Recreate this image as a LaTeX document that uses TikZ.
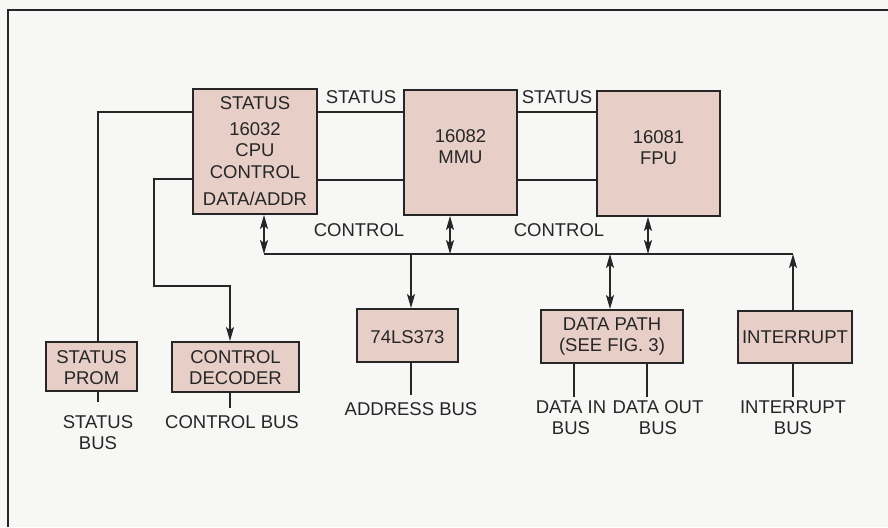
\documentclass[tikz,border=0pt]{standalone}
\usepackage{fontspec}
\setmainfont{Liberation Sans}
\usetikzlibrary{arrows.meta}
\definecolor{boxfill}{RGB}{231,207,199}
\definecolor{ink}{RGB}{38,38,38}
\definecolor{paper}{RGB}{247,247,246}
\tikzset{
  blk/.style={draw=ink, line width=1.9pt, fill=boxfill, inner sep=0pt},
  txt/.style={text=ink, font=\fontsize{18.5}{21}\selectfont, align=center, inner sep=0pt},
  wire/.style={draw=ink, line width=1.5pt},
  arr/.style={wire, -{Stealth[length=14pt,width=8pt,inset=3pt]}},
  barr/.style={wire, {Stealth[length=14pt,width=8pt,inset=3pt]}-{Stealth[length=14pt,width=8pt,inset=3pt]}},
}
\begin{document}
\begin{tikzpicture}[x=1pt,y=-1pt]
\fill[paper] (0,0) rectangle (888,527);
\useasboundingbox (0,0) rectangle (888,527);
% frame (top and left visible)
\coordinate (ftl) at (8,10);
\coordinate (ftr) at (888,10);
\coordinate (fbl) at (8,527);
\draw[draw=ink, line width=1.8pt] (fbl) -- (ftl) -- (ftr);

% main boxes
\node[blk, minimum width=124pt, minimum height=125pt] (cpu) at (255,151.5) {};
\node[blk, minimum width=113pt, minimum height=125pt] (mmu) at (460.5,152.5) {};
\node[blk, minimum width=123pt, minimum height=125pt] (fpu) at (658.5,153.5) {};

\node[txt] (cpu1) at (255,103) {STATUS};
\node[txt] (cpu2) at (255,129) {16032};
\node[txt] (cpu3) at (255,150) {CPU};
\node[txt] (cpu4) at (255,172) {CONTROL};
\node[txt] (cpu5) at (255,199) {DATA/ADDR};
\node[txt] (mmut) at (460.5,147) {16082\\MMU};
\node[txt] (fput) at (658.5,148) {16081\\FPU};

% lower boxes
\node[blk, minimum width=91pt, minimum height=49pt] (prom) at (91.5,366.5) {};
\node[txt] (promt) at (91.5,367.5) {STATUS\\PROM};
\node[blk, minimum width=127pt, minimum height=50pt] (dec) at (235.5,367) {};
\node[txt] (dect) at (235.5,367.5) {CONTROL\\DECODER};
\node[blk, minimum width=101pt, minimum height=53pt] (ls) at (407.5,335.5) {};
\node[txt] (lst) at (407.5,337) {74LS373};
\node[blk, minimum width=142pt, minimum height=53pt] (dp) at (612,336.5) {};
\node[txt] (dpt) at (612,336.5) {DATA PATH\\(SEE FIG. 3)};
\node[blk, minimum width=114pt, minimum height=52pt] (int) at (795,337) {};
\node[txt] (intt) at (795,337) {INTERRUPT};

% status / control links between CPU, MMU, FPU
\coordinate (sy) at (0,112);
\coordinate (cy) at (0,180);
\draw[wire] (cpu.east |- sy) -- (mmu.west |- sy);
\draw[wire] (mmu.east |- sy) -- (fpu.west |- sy);
\draw[wire] (cpu.east |- cy) -- (mmu.west |- cy);
\draw[wire] (mmu.east |- cy) -- (fpu.west |- cy);
\node[txt] (st1) at (361,97) {STATUS};
\node[txt] (st2) at (557,97) {STATUS};
\node[txt] (ct1) at (359,230) {CONTROL};
\node[txt] (ct2) at (559,230) {CONTROL};

% CPU to status PROM
\coordinate (pl) at (98,112);
\draw[wire] (cpu.west |- pl) -- (pl) -- (pl |- prom.north);
% CPU to control decoder
\coordinate (dl) at (154,179);
\coordinate (dk) at (230,286);
\draw[arr] (cpu.west |- dl) -- (dl) |- (dk) -- (dk |- dec.north);

% bus
\coordinate (b1) at (264,254);
\coordinate (b2) at (450,254);
\coordinate (b3) at (648,254);
\coordinate (b4) at (793,254);
\coordinate (bl) at (411,254);
\coordinate (bd) at (610,254);
\draw[wire] (b1) -- (b4);
\draw[barr] (cpu.south -| b1) -- (b1);
\draw[barr] (mmu.south -| b2) -- (b2);
\draw[barr] (fpu.south -| b3) -- (b3);
\draw[arr] (bl) -- (bl |- ls.north);
\draw[barr] (bd) -- (bd |- dp.north);
\draw[arr] (int.north -| b4) -- (b4);

% output stubs
\coordinate (o1) at (98,402);
\coordinate (o2) at (230,408);
\coordinate (o3) at (411,395);
\coordinate (o4) at (574,397);
\coordinate (o5) at (647,397);
\coordinate (o6) at (793,397);
\draw[wire] (prom.south -| o1) -- (o1);
\draw[wire] (dec.south -| o2) -- (o2);
\draw[wire] (ls.south -| o3) -- (o3);
\draw[wire] (dp.south -| o4) -- (o4);
\draw[wire] (dp.south -| o5) -- (o5);
\draw[wire] (int.south -| o6) -- (o6);

\node[txt] (l1) at (98,432.5) {STATUS\\BUS};
\node[txt] (l2) at (232,422) {CONTROL BUS};
\node[txt] (l3) at (411,409) {ADDRESS BUS};
\node[txt] (l4) at (571,418) {DATA IN\\BUS};
\node[txt] (l5) at (658,418) {DATA OUT\\BUS};
\node[txt] (l6) at (793,418) {INTERRUPT\\BUS};
\end{tikzpicture}
\end{document}
